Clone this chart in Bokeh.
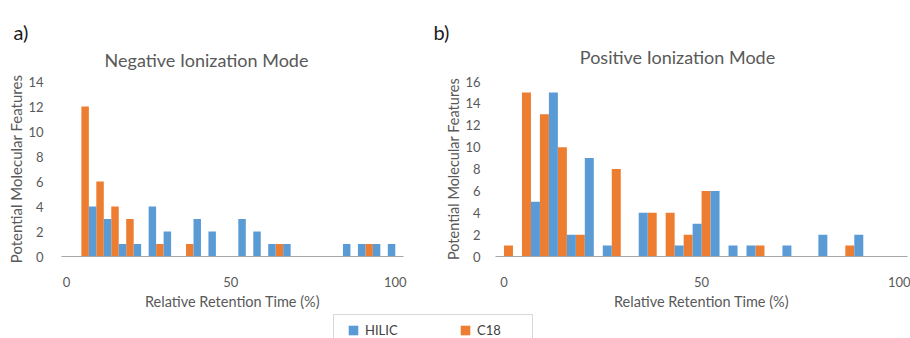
from bokeh.plotting import figure
from bokeh.layouts import column, row
from bokeh.models import (BoxAnnotation, ColumnDataSource, FixedTicker, Label, Legend,
                          LegendItem, Range1d)
from bokeh.transform import dodge
from bokeh.embed import file_html
from bokeh.resources import INLINE

# Relative retention time: 22 equal bins across 0-100 %, bin centres
bin_centers = [2.27, 6.82, 11.36, 15.91, 20.45, 25.00, 29.55, 34.09, 38.64, 43.18, 47.73,
               52.27, 56.82, 61.36, 65.91, 70.45, 75.00, 79.55, 84.09, 88.64, 93.18, 97.73]
bin_width = 100 / 22

# Potential molecular features per bin
neg_hilic = [0, 4, 3, 1, 1, 4, 2, 0, 3, 2, 0, 3, 2, 1, 1, 0, 0, 0, 1, 1, 1, 1]
neg_c18 = [0, 12, 6, 4, 3, 0, 1, 0, 1, 0, 0, 0, 0, 0, 1, 0, 0, 0, 0, 0, 1, 0]
pos_hilic = [0, 5, 15, 2, 9, 1, 0, 4, 0, 1, 3, 6, 1, 1, 0, 1, 0, 2, 0, 2, 0, 0]
pos_c18 = [1, 15, 13, 10, 2, 0, 8, 0, 4, 4, 2, 6, 0, 0, 1, 0, 0, 0, 0, 1, 0, 0]

x_ticks = [0, 50, 100]
series_names = ["HILIC", "C18"]
panel_tags = ["a)", "b)"]
panel_titles = ["Negative Ionization Mode", "Positive Ionization Mode"]
x_title = "Relative Retention Time (%)"
y_title = "Potential Molecular Features"

BLUE = "#5B9BD5"
ORANGE = "#ED7D31"
GRAY = "#595959"
FONT = "Lato"
PANEL_H = 242


def blank(width, height):
    """Axis-free strip whose data units are pixels measured from the top-left."""
    f = figure(width=width, height=height, output_backend="svg", toolbar_location=None,
               x_range=Range1d(0, width), y_range=Range1d(height, 0), min_border=0,
               x_axis_location=None, y_axis_location=None)
    f.outline_line_color = None
    f.grid.visible = False
    return f


def make_panel(width, borders, x_range, y_max, hilic, c18, label_standoff, title_size):
    left, right, top, bottom = borders
    p = figure(width=width, height=PANEL_H, output_backend="svg", toolbar_location=None,
               x_range=Range1d(*x_range), y_range=Range1d(0, y_max),
               min_border_left=left, min_border_right=right,
               min_border_top=top, min_border_bottom=bottom)
    p.outline_line_color = None
    p.grid.visible = False

    src = ColumnDataSource(dict(x=bin_centers, hilic=hilic, c18=c18))
    p.vbar(x=dodge("x", -bin_width / 4, range=p.x_range), top="c18", width=bin_width / 2,
           source=src, fill_color=ORANGE, line_color=None)
    p.vbar(x=dodge("x", bin_width / 4, range=p.x_range), top="hilic", width=bin_width / 2,
           source=src, fill_color=BLUE, line_color=None)

    xa = p.xaxis[0]
    xa.ticker = FixedTicker(ticks=x_ticks)
    xa.axis_line_color = "#A6A6A6"
    xa.major_tick_line_color = None
    xa.minor_tick_line_color = None
    xa.major_label_standoff = 14
    xa.major_label_text_font = FONT
    xa.major_label_text_font_size = "13px"
    xa.major_label_text_color = GRAY
    xa.axis_label = x_title
    xa.axis_label_standoff = 3
    xa.axis_label_text_font = FONT
    xa.axis_label_text_font_size = "14.5px"
    xa.axis_label_text_font_style = "normal"
    xa.axis_label_text_color = GRAY

    ya = p.yaxis[0]
    ya.ticker = FixedTicker(ticks=list(range(0, y_max + 1, 2)))
    ya.axis_line_color = None
    ya.major_tick_line_color = None
    ya.minor_tick_line_color = None
    ya.major_tick_out = 0
    ya.major_tick_in = 0
    ya.major_label_standoff = label_standoff
    ya.major_label_text_font = FONT
    ya.major_label_text_font_size = "13px"
    ya.major_label_text_color = GRAY
    ya.axis_label = y_title
    ya.axis_label_standoff = 0
    ya.axis_label_text_font = FONT
    ya.axis_label_text_font_size = title_size
    ya.axis_label_text_font_style = "normal"
    ya.axis_label_text_color = GRAY
    return p


# Header strip with the panel tags and titles
head = blank(910, 70)
for tag, tx, title, cx, by in zip(panel_tags, [13, 433], panel_titles, [206, 677], [59, 56]):
    head.add_layout(Label(x=tx, y=31, text=tag, text_font=FONT, text_font_size="20px",
                          text_color="#1A1A1A", text_baseline="alphabetic"))
    head.add_layout(Label(x=cx, y=by, text=title, text_font=FONT, text_font_size="18px",
                          text_color=GRAY, text_align="center", text_baseline="alphabetic"))

pa = make_panel(430, (61, 27, 11, 50), (-1.5, 102.5), 14, neg_hilic, neg_c18, 18, "15px")
pb = make_panel(480, (65, 3, 7, 49), (-2.15, 102.1), 16, pos_hilic, pos_c18, 15, "14.5px")

# Shared legend strip underneath both panels
pl = blank(910, 26)
r_h = pl.vbar(x=[0], top=[0], width=1, fill_color=BLUE, line_color=None)
r_c = pl.vbar(x=[0], top=[0], width=1, fill_color=ORANGE, line_color=None)
pl.add_layout(BoxAnnotation(left=333, right=532, top=2, bottom=40, fill_alpha=0,
                            line_color="#7F7F7F", line_width=1))
legend = Legend(items=[LegendItem(label=series_names[0], renderers=[r_h]),
                       LegendItem(label=series_names[1], renderers=[r_c])],
                orientation="horizontal", location=(347, -1),
                padding=0, spacing=50, label_width=44, label_standoff=6,
                glyph_width=12, glyph_height=12, label_height=18,
                label_text_font=FONT, label_text_font_size="13px",
                label_text_color="#404040", border_line_color=None,
                background_fill_alpha=0, margin=0)
pl.add_layout(legend, "center")

layout = column(head, row(pa, pb), pl)
open("out.html", "w").write(file_html(layout, INLINE))
